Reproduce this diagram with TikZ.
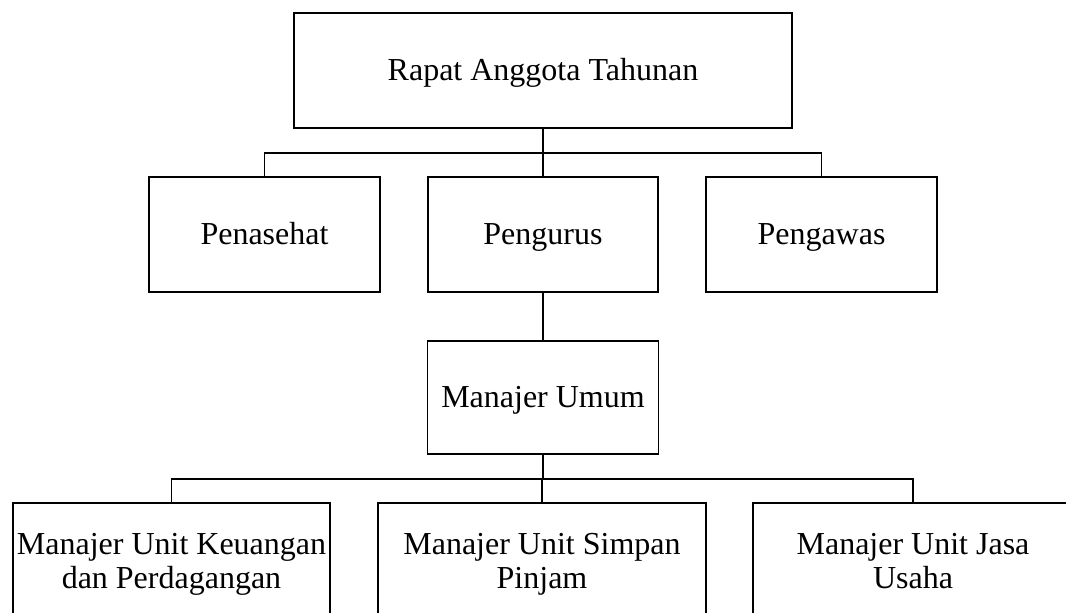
\documentclass[tikz,border=0pt]{standalone}
\usepackage{fontspec}
\setmainfont{Liberation Serif}
\begin{document}
\begin{tikzpicture}[x=0.75pt,y=-0.75pt,
  box/.style={draw,line width=1.3pt,rectangle,inner sep=0pt,
    font=\fontsize{24}{25.5}\selectfont},
  oneline/.style={box,text height=15pt,text depth=0pt},
  twoline/.style={box,align=center},
  conn/.style={line width=1.3pt}]
\useasboundingbox (0,0) rectangle (1066,612);
\clip (0,0) rectangle (1066,612);
\node[oneline,minimum width=498*0.75pt,minimum height=115*0.75pt] (rat) at (543,70.5) {Rapat Anggota Tahunan};
\node[oneline,minimum width=231*0.75pt,minimum height=115*0.75pt] (pen) at (264.5,234.5) {Penasehat};
\node[oneline,minimum width=230*0.75pt,minimum height=115*0.75pt] (pgr) at (543,234.5) {Pengurus};
\node[oneline,minimum width=231*0.75pt,minimum height=115*0.75pt] (pgw) at (821.5,234.5) {Pengawas};
\node[oneline,minimum width=231*0.75pt,minimum height=113*0.75pt] (mu) at (543,397.5) {Manajer Umum};
\node[twoline,minimum width=317*0.75pt,minimum height=122.4*0.75pt] (b1) at (171.5,564.2) {\strut Manajer Unit Keuangan\\dan Perdagangan\strut};
\node[twoline,minimum width=328*0.75pt,minimum height=122.4*0.75pt] (b2) at (542,564.2) {\strut Manajer Unit Simpan\\Pinjam\strut};
\node[twoline,minimum width=320*0.75pt,minimum height=122.4*0.75pt] (b3) at (913,564.2) {\strut Manajer Unit Jasa\\Usaha\strut};
\coordinate (j1) at (543,153);
\coordinate (j2) at (543,479);
\draw[conn] (rat.south) -- (j1);
\draw[conn] (pen.north) |- (j1) -| (pgw.north);
\draw[conn] (j1) -- (pgr.north);
\draw[conn] (pgr.south) -- (mu.north);
\draw[conn] (mu.south) -- (j2);
\draw[conn] (b1.north) |- (j2) -| (b3.north);
\draw[conn] (j2) -| (b2.north);
\end{tikzpicture}
\end{document}
